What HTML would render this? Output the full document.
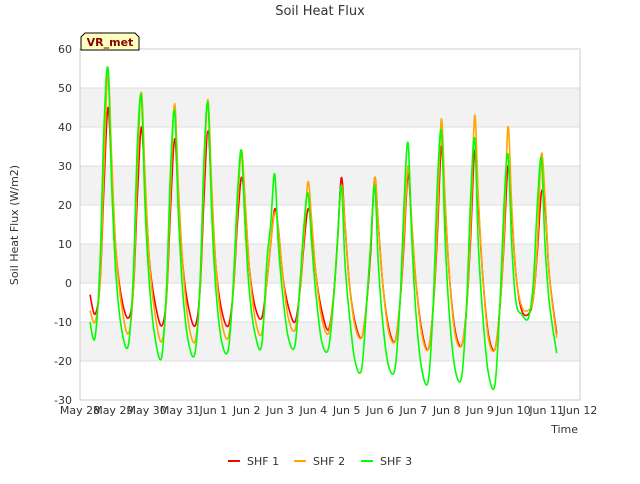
<!DOCTYPE html>
<html><head><meta charset="utf-8"><style>
body{margin:0;background:#fff;font-family:"DejaVu Sans","Liberation Sans",sans-serif;}
svg text{font-family:"DejaVu Sans","Liberation Sans",sans-serif;}
</style></head><body>
<svg id="chart" width="640" height="480" viewBox="0 0 640 480">
<text x="320" y="15" text-anchor="middle" font-size="13" fill="#333">Soil Heat Flux</text>
<g id="bands"></g>
<g id="grid"></g>
<rect x="80" y="49" width="500" height="351" fill="none" stroke="#ccc"/>
<g id="yticks"></g>
<g id="xticks"></g>
<g id="series"></g>
<text transform="translate(18,225) rotate(-90)" text-anchor="middle" font-size="11" fill="#333">Soil Heat Flux (W/m2)</text>
<text x="578" y="433" text-anchor="end" font-size="11" fill="#333">Time</text>
<g>
<path d="M81,50 L81,37 L85,33 L135,33 L139,37 L139,50 Z" fill="#ffffc0" stroke="#000" stroke-width="1"/>
<text x="110" y="46" text-anchor="middle" font-size="11" font-weight="bold" fill="#8b0000">VR_met</text>
</g>
<g>
<g><line x1="228" y1="461" x2="240" y2="461" stroke="#f00" stroke-width="2"/><text x="247" y="465" font-size="11" fill="#333">SHF 1</text></g>
<g><line x1="294" y1="461" x2="306" y2="461" stroke="#ffa500" stroke-width="2"/><text x="313" y="465" font-size="11" fill="#333">SHF 2</text></g>
<g><line x1="361" y1="461" x2="373" y2="461" stroke="#0f0" stroke-width="2"/><text x="380" y="465" font-size="11" fill="#333">SHF 3</text></g>
</g>
</svg>
<script>
const xLabels=["May 28","May 29","May 30","May 31","Jun 1","Jun 2","Jun 3","Jun 4","Jun 5","Jun 6","Jun 7","Jun 8","Jun 9","Jun 10","Jun 11","Jun 12"];
const yTicks=[-30,-20,-10,0,10,20,30,40,50,60];
const times=[0.3,
0.45,0.6,0.72,0.84,0.95,1.08,1.25,
1.45,1.6,1.72,1.84,1.95,2.08,2.25,
2.45,2.6,2.72,2.84,2.95,3.08,3.25,
3.45,3.6,3.72,3.84,3.95,4.08,4.25,
4.45,4.6,4.72,4.84,4.95,5.08,5.25,
5.45,5.6,5.72,5.84,5.95,6.08,6.25,
6.45,6.6,6.72,6.84,6.95,7.08,7.25,
7.45,7.6,7.72,7.84,7.95,8.08,8.25,
8.45,8.6,8.72,8.84,8.95,9.08,9.25,
9.45,9.6,9.72,9.84,9.95,10.08,10.25,
10.45,10.6,10.72,10.84,10.95,11.08,11.25,
11.45,11.6,11.72,11.84,11.95,12.08,12.25,
12.45,12.6,12.72,12.84,12.95,13.08,13.25,
13.45,13.6,13.72,13.84,13.95,14.08,14.3];
const shf1=[-3,
-8,0,25,45,28,8,-4, -9,-2,22,40,25,6,-5, -11,-3,20,37,22,5,-6, -11,-2,22,39,22,4,-7,
-11,-2,15,27,20,4,-6, -9,0,10,19,14,2,-6, -10,-2,10,19,14,2,-7, -12,-4,10,27,15,0,-10,
-14,-5,8,27,15,0,-11, -15,-5,10,28,15,0,-12, -17,-6,12,35,20,2,-12, -16,-6,12,34,20,2,-13,
-17,-6,10,30,18,2,-7, -8,-4,8,23,20,2,-13];
const shf2=[-7,
-10,0,30,54,32,8,-6, -13,-2,28,49,28,6,-8, -15,-3,25,46,25,5,-10, -15,-2,28,47,25,4,-10,
-14,-2,18,34,22,4,-9, -13,0,10,18,14,2,-9, -12,-2,12,26,16,2,-9, -13,-4,10,25,15,0,-11,
-14,-5,10,27,15,0,-12, -15,-5,12,30,16,0,-13, -17,-6,15,42,22,2,-13, -16,-6,15,43,22,2,-14,
-17,-6,12,40,20,2,-6, -7,-4,10,33,22,2,-14];
const shf3=[-10,
-14,5,40,55,25,2,-12, -16,2,35,48,20,0,-14, -19,0,30,44,18,-2,-15, -18,0,32,46,18,-2,-15,
-17,0,22,34,15,-2,-13, -16,5,15,28,10,-3,-14, -16,0,15,23,10,-3,-15, -17,-5,10,25,5,-8,-20,
-22,-5,10,25,5,-10,-21, -22,-5,20,36,12,-8,-22, -25,-5,25,39,12,-8,-22, -24,-5,22,37,10,-8,-23,
-26,-5,20,33,10,-5,-8, -9,0,20,32,10,-5,-18];
const X0=80,X1=580,Y0=400,Y1=49;
const xs=t=>X0+t*(X1-X0)/15;
const ys=v=>Y0-(v+30)*(Y0-Y1)/90;
const NS="http://www.w3.org/2000/svg";
function mk(tag,attrs,parent){const e=document.createElementNS(NS,tag);for(const k in attrs)e.setAttribute(k,attrs[k]);parent.appendChild(e);return e;}
const bands=document.getElementById('bands'),grid=document.getElementById('grid');
for(const lo of [40,20,0,-20]){
const r=mk('rect',{x:X0,y:ys(lo+10),width:X1-X0,height:ys(lo)-ys(lo+10),fill:'#f2f2f2'},bands);


}
const yt=document.getElementById('yticks');
for(const v of yTicks){
const l=mk('line',{x1:X0,x2:X1,y1:ys(v),y2:ys(v),stroke:'#ddd'},grid);


const t=mk('text',{x:72,y:ys(v)+4,'text-anchor':'end','font-size':11,fill:'#333'},yt);
t.textContent=v;


}
const xt=document.getElementById('xticks');
xLabels.forEach((s,i)=>{
const t=mk('text',{x:xs(i),y:414,'text-anchor':'middle','font-size':11,fill:'#333'},xt);
t.textContent=s;


});
function smoothPath(px,py){
let d='M'+px[0].toFixed(1)+','+py[0].toFixed(1);
for(let i=0;i<px.length-1;i++){
const i0=Math.max(0,i-1),i3=Math.min(px.length-1,i+2);
const c1x=px[i]+(px[i+1]-px[i0])/6,c1y=py[i]+(py[i+1]-py[i0])/6;
const c2x=px[i+1]-(px[i3]-px[i])/6,c2y=py[i+1]-(py[i3]-py[i])/6;
d+=' C'+c1x.toFixed(1)+','+c1y.toFixed(1)+' '+c2x.toFixed(1)+','+c2y.toFixed(1)+' '+px[i+1].toFixed(1)+','+py[i+1].toFixed(1);
}
return d;
}
const sg=document.getElementById('series');
[[shf1,'#f00','shf1-line'],[shf2,'#ffa500','shf2-line'],[shf3,'#0f0','shf3-line']].forEach(([d,c,n])=>{
const px=times.map(xs),py=d.map(ys);
const p=mk('path',{d:smoothPath(px,py),fill:'none',stroke:c,'stroke-width':1.6,'stroke-linejoin':'round'},sg);


});
</script>
</body></html>
